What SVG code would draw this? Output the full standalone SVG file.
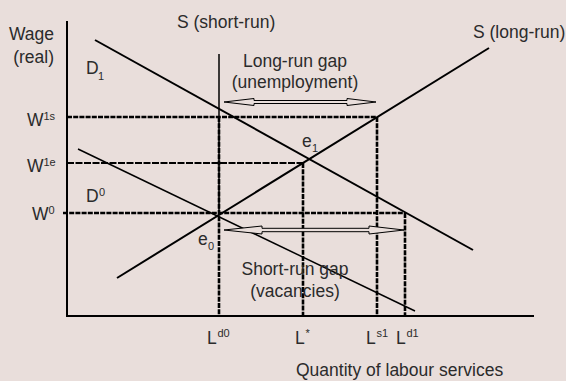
<svg xmlns="http://www.w3.org/2000/svg" width="566" height="381" viewBox="0 0 566 381">
<style>
text{font-family:"Liberation Sans",Arial,sans-serif;font-size:17.5px;fill:#2b2b2b}
.s{font-size:11px}
.c{text-anchor:middle}
.ax{stroke:#000;stroke-width:2;fill:none}
.ln{stroke:#000;stroke-width:2;fill:none}
.thin{stroke:#000;stroke-width:1.5;fill:none}
.dot{stroke:#000;stroke-width:2.6;stroke-dasharray:5 1.2;fill:none}
.dash{stroke:#000;stroke-width:2;stroke-dasharray:7 1.5;fill:none}
.arr{stroke:#000;stroke-width:1;fill:#e9dedb}
</style>
<rect width="566" height="381" fill="#e9dedb"/>
<g id="axes">
<polyline class="ax" points="67,21 67,316 534,316"/>
<text x="54" y="40" text-anchor="end">Wage</text>
<text x="54" y="63" text-anchor="end">(real)</text>
<text x="296" y="376">Quantity of labour services</text>
</g>
<g id="connectors">
<line class="dot" x1="67" y1="117" x2="377" y2="117"/>
<line class="dash" x1="67" y1="163" x2="304" y2="163"/>
<line class="dot" x1="63" y1="213" x2="405" y2="213"/>
<line class="dot" x1="219" y1="117" x2="219" y2="316"/>
<line class="dot" x1="303" y1="163" x2="303" y2="316"/>
<line class="dot" x1="377" y1="117" x2="377" y2="316"/>
<line class="dot" x1="405" y1="213" x2="405" y2="316"/>
</g>
<g id="S-short-run">
<line class="thin" x1="219" y1="54" x2="219" y2="213"/>
<text x="177" y="28">S (short-run)</text>
</g>
<g id="S-long-run">
<line class="ln" x1="117" y1="278" x2="489" y2="48"/>
<text x="473" y="38">S (long-run)</text>
</g>
<g id="D1">
<line class="ln" x1="95" y1="40" x2="473" y2="250"/>
<text x="86" y="74">D</text><text class="s" x="98" y="80">1</text>
</g>
<g id="D0">
<line class="thin" x1="78" y1="149" x2="415" y2="311"/>
<text x="86" y="202">D</text><text class="s" x="99" y="196">0</text>
</g>
<g id="wage-labels">
<text x="27" y="126">W</text><text class="s" x="43.5" y="120">1s</text>
<text x="27" y="172">W</text><text class="s" x="43.5" y="166">1e</text>
<text x="32" y="220">W</text><text class="s" x="48.5" y="214">0</text>
</g>
<g id="e1"><text x="302" y="147">e</text><text class="s" x="312" y="152">1</text></g>
<g id="e0"><text x="198" y="245">e</text><text class="s" x="208" y="250">0</text></g>
<g id="long-run-gap">
<path class="arr" d="M224,102 L254,98.5 L254,100.5 L347,100.5 L347,98.5 L376,102 L347,105.5 L347,103.5 L254,103.5 L254,105.5 Z"/>
<text class="c" x="295" y="67">Long-run gap</text>
<text class="c" x="295" y="88">(unemployment)</text>
</g>
<g id="short-run-gap">
<path class="arr" d="M224,230 L262,226 L262,228.3 L369,228.3 L369,226 L404,230 L369,234 L369,231.7 L262,231.7 L262,234 Z"/>
<text class="c" x="295" y="275">Short-run gap</text>
<text class="c" x="295" y="297">(vacancies)</text>
</g>
<g id="L-labels">
<text x="207" y="344">L</text><text class="s" x="217.5" y="337">d0</text>
<text x="295" y="344">L</text><text class="s" x="305.5" y="337">*</text>
<text x="366" y="344">L</text><text class="s" x="376.5" y="337">s1</text>
<text x="396" y="344">L</text><text class="s" x="406.5" y="337">d1</text>
</g>
</svg>
